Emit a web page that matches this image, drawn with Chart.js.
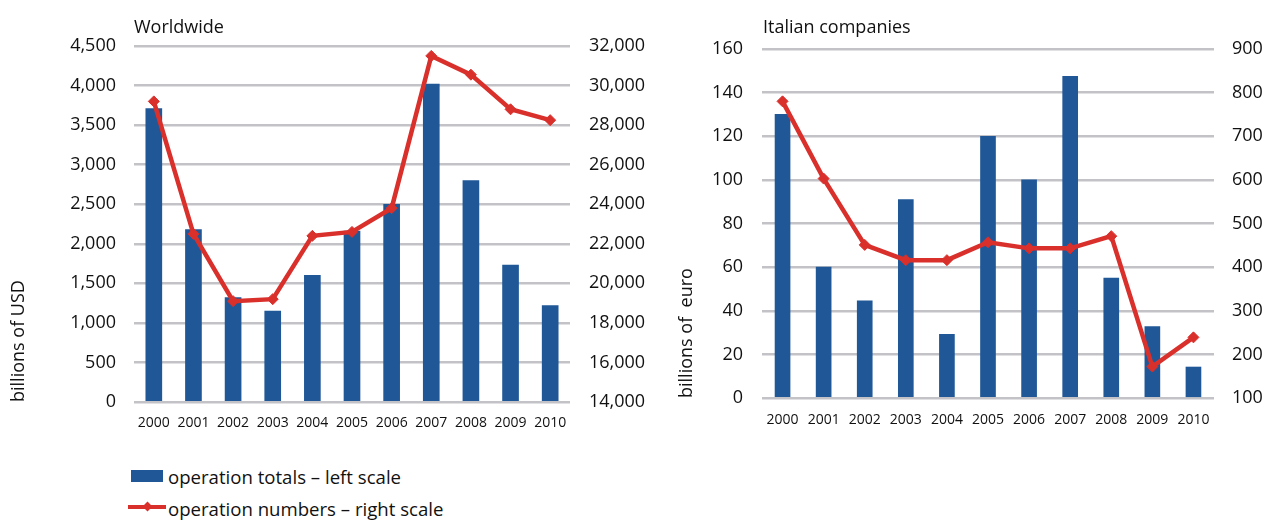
<!DOCTYPE html>
<html>
<head>
<meta charset="utf-8">
<script src="https://cdn.jsdelivr.net/npm/chart.js@4"></script>
<style>
  body { margin: 0; background: #fff; font-family: "Open Sans", sans-serif; color: #111; }
  #wrap { position: relative; width: 1268px; height: 520px; }
  .box { position: absolute; top: 0; }
  .title { position: absolute; font-size: 18px; line-height: 22px; }
  .leg { position: absolute; left: 168px; font-size: 18.6px; line-height: 22px; }
  .sw-bar { position: absolute; left: 131px; top: 470px; width: 32px; height: 12px; background: #1f5797; }
  .sw-line { position: absolute; left: 128px; top: 505px; width: 38px; height: 4px; background: #d9302c; }
  .sw-dot { position: absolute; left: 144px; top: 503px; width: 7px; height: 7px; background: #d9302c; transform: rotate(45deg); }
</style>
</head>
<body>
<div id="wrap">
  <div class="box" style="left:0;width:680px;height:440px"><canvas id="world" width="680" height="440"></canvas></div>
  <div class="box" style="left:660px;width:608px;height:440px"><canvas id="italy" width="608" height="440"></canvas></div>
  <div class="title" style="left:134px;top:15px">Worldwide</div>
  <div class="title" style="left:763px;top:15px">Italian companies</div>
  <div class="sw-bar"></div>
  <div class="leg" style="top:466px">operation totals – left scale</div>
  <div class="sw-line"></div><div class="sw-dot"></div>
  <div class="leg" style="top:498px">operation numbers – right scale</div>
</div>
<script>
const years = ['2000', '2001', '2002', '2003', '2004', '2005', '2006', '2007', '2008', '2009', '2010'];

// worldwide: totals in billions of USD, numbers of operations
const worldTotals = [3710, 2180, 1320, 1150, 1600, 2160, 2500, 4020, 2800, 1730, 1220];
const worldNumbers = [29200, 22500, 19100, 19200, 22400, 22600, 23800, 31500, 30550, 28800, 28250];

// Italian companies: totals in billions of euro, numbers of operations
const italyTotals = [130, 60, 44.5, 91, 29.2, 120, 100, 147.5, 55, 32.7, 14.2];
const italyNumbers = [780, 603, 451, 416, 416, 457, 443, 443, 471, 172, 239];

const BLUE = '#1f5797';
const RED = '#d9302c';
const GRID = '#c3c3c7';
const FONT = 'Open Sans';

function makeChart(id, totals, numbers, cfg) {
  const ctx = document.getElementById(id).getContext('2d');
  return new Chart(ctx, {
    type: 'bar',
    data: {
      labels: years,
      datasets: [{
        type: 'line',
        label: 'operation numbers – right scale',
        data: numbers,
        yAxisID: 'y1',
        borderColor: RED,
        backgroundColor: RED,
        borderWidth: 4.5,
        pointStyle: 'rectRot',
        pointRadius: 5.5,
        pointBorderWidth: 1,
        tension: 0,
        order: 0
      }, {
        label: 'operation totals – left scale',
        data: totals,
        yAxisID: 'y',
        backgroundColor: BLUE,
        barThickness: cfg.bar,
        order: 1
      }]
    },
    options: {
      responsive: false,
      animation: false,
      layout: { padding: { top: cfg.top, left: 0, right: 0, bottom: 0 } },
      plugins: { legend: { display: false }, tooltip: { enabled: false } },
      scales: {
        x: {
          grid: { display: false, drawTicks: false },
          border: { display: false },
          ticks: { color: '#111', font: { family: FONT, size: 14 }, padding: cfg.xPad, maxRotation: 0, autoSkip: false },
          afterFit: s => { s.height = cfg.xH; }
        },
        y: {
          position: 'left',
          min: cfg.yMin, max: cfg.yMax,
          grid: { color: GRID, lineWidth: 2.5, drawTicks: false },
          border: { display: false },
          ticks: { stepSize: cfg.yStep, color: '#111', font: { family: FONT, size: 18 }, padding: cfg.yPad },
          title: { display: true, text: cfg.yTitle, align: 'start', color: '#111', font: { family: FONT, size: 18 }, padding: { top: cfg.tPad, bottom: 0 } },
          afterFit: s => { s.width = cfg.yW; }
        },
        y1: {
          position: 'right',
          min: cfg.rMin, max: cfg.rMax,
          grid: { display: false, drawTicks: false },
          border: { display: false },
          ticks: { stepSize: cfg.rStep, color: '#111', font: { family: FONT, size: 18 }, padding: cfg.rPad },
          afterFit: s => { s.width = cfg.rW; }
        }
      }
    }
  });
}

makeChart('world', worldTotals, worldNumbers, {
  bar: 16, top: 46, xH: 38, xPad: 13,
  yMin: 0, yMax: 4500, yStep: 500, yPad: 18, yW: 134, yTitle: 'billions of USD', tPad: 8,
  rMin: 14000, rMax: 32000, rStep: 2000, rPad: 19, rW: 110
});

makeChart('italy', italyTotals, italyNumbers, {
  bar: 15, top: 49, xH: 42, xPad: 14,
  yMin: 0, yMax: 160, yStep: 20, yPad: 19, yW: 102, yTitle: 'billions of  euro', tPad: 16,
  rMin: 100, rMax: 900, rStep: 100, rPad: 18, rW: 54
});
</script>
</body>
</html>
